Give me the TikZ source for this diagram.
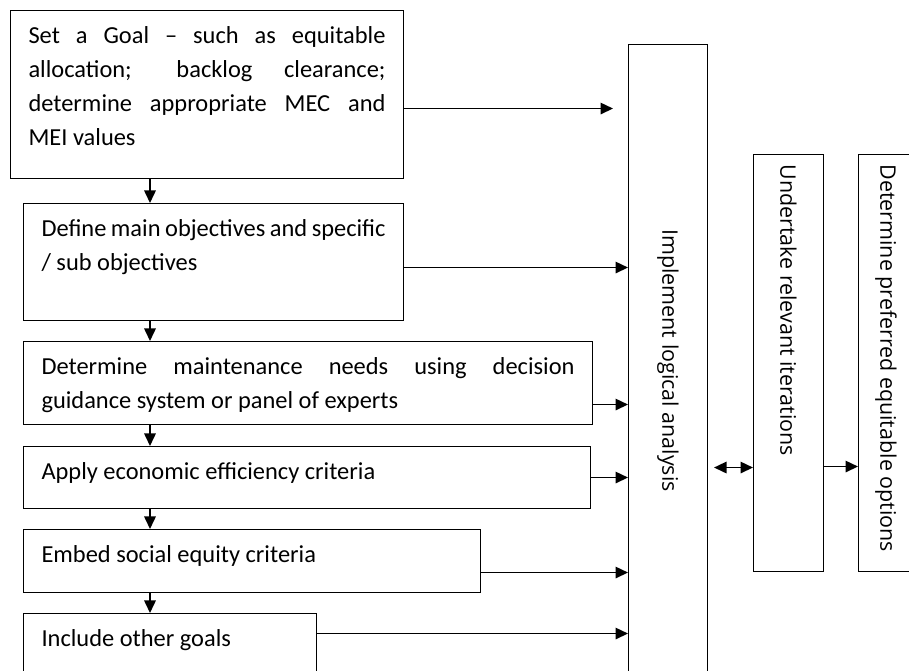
\documentclass[tikz,border=0pt]{standalone}
\usepackage{fontspec}
\setmainfont{Carlito}
\newfontfamily\sidefont{Open Sans}
\usetikzlibrary{arrows.meta, positioning}

\tikzset{
  stepbox/.style={draw, line width=0.6pt, anchor=north west, inner xsep=0.36cm, inner ysep=0.32cm,
    font=\fontsize{13.9}{19.4}\selectfont},
  sidebox/.style={draw, line width=0.6pt, anchor=north west, inner sep=0pt,
    font=\sidefont\fontsize{12.2}{14}\selectfont},
  flow/.style={-{Triangle[length=0.25cm,width=0.23cm]}, line width=0.9pt},
  twoway/.style={flow, {Triangle[length=0.25cm,width=0.23cm]}-{Triangle[length=0.25cm,width=0.23cm]}},
}
% box text: width, height (cm), text at the top
\newcommand{\stepbody}[3]{\parbox[t][\dimexpr#2cm-0.64cm\relax][t]{\dimexpr#1cm-0.72cm\relax}{#3}}
\newcommand{\sidebody}[3]{\parbox[t][#2cm][t]{#1cm}{\vspace*{0.2cm}\centering\rotatebox{-90}{#3}}}

\begin{document}
\begin{tikzpicture}
    \useasboundingbox (0,0) rectangle (18.18,13.42);
    \clip (0,0) rectangle (18.18,13.42);

    % steps
    \node[stepbox] (b1) at (0.2,13.22) {\stepbody{7.86}{3.36}{Set a Goal -- such as equitable\linebreak
      allocation; backlog clearance;\linebreak determine appropriate MEC and\linebreak MEI values}};
    \node[stepbox] (b2) at (0.46,9.36) {\stepbody{7.6}{2.34}{Define main objectives and specific\linebreak / sub objectives}};
    \node[stepbox] (b3) at (0.46,6.6) {\stepbody{11.38}{1.66}{Determine maintenance needs using decision\linebreak
      guidance system or panel of experts}};
    \node[stepbox] (b4) at (0.46,4.5) {\stepbody{11.34}{1.24}{Apply economic efficiency criteria}};
    \node[stepbox] (b5) at (0.46,2.84) {\stepbody{9.14}{1.26}{Embed social equity criteria}};
    \node[stepbox] (b6) at (0.46,1.16) {\stepbody{5.86}{1.3}{Include other goals}};

    % tall boxes
    \node[sidebox, minimum width=1.58cm, minimum height=12.64cm] (impl) at (12.56,12.54)
      {\rotatebox{-90}{Implement logical analysis}};
    \node[sidebox] (iter) at (15.06,10.34) {\sidebody{1.4}{8.34}{Undertake relevant iterations}};
    \node[sidebox] (opts) at (17.16,10.34) {\sidebody{1.1}{8.34}{Determine preferred equitable options}};

    % down the chain
    \coordinate (spine) at (3.0,0);
    \foreach \a/\b in {b1/b2, b2/b3, b3/b4, b4/b5, b5/b6}
        \draw[flow] (\a.south -| spine) -- (\b.north -| spine);

    % into the analysis
    \draw[flow, shorten >=0.3cm] ([yshift=-0.28cm]b1.east) -- ([yshift=-0.28cm]b1.east -| impl.west);
    \foreach \b/\s in {b2/-0.11, b3/-0.43, b4/0, b5/-0.23, b6/0.25}
        \draw[flow] ([yshift=\s cm]\b.east) -- ([yshift=\s cm]\b.east -| impl.west);

    \draw[twoway, shorten <=0.12cm] ([yshift=-2.09cm]iter.west -| impl.east) -- ([yshift=-2.09cm]iter.west);
    \draw[flow] ([yshift=-2.07cm]iter.east) -- ([yshift=-2.07cm]iter.east -| opts.west);
\end{tikzpicture}
\end{document}
